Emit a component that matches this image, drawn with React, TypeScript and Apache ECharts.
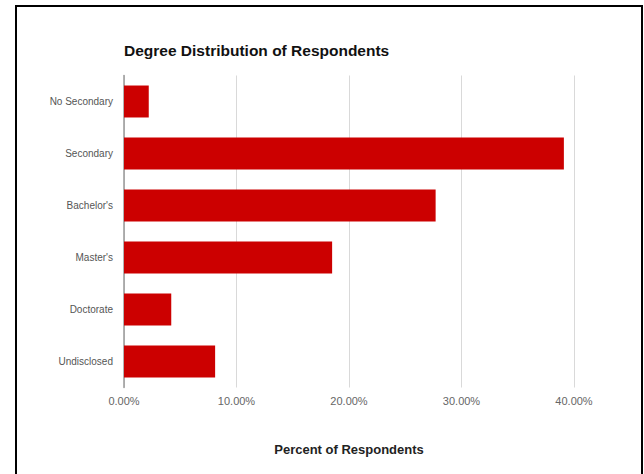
import React, { useEffect, useRef } from "react";
import * as echarts from "echarts";

const categories = ["No Secondary", "Secondary", "Bachelor's", "Master's", "Doctorate", "Undisclosed"];
const percentValues = [2.2, 39.1, 27.7, 18.5, 4.2, 8.1];
const xTicks = [0, 10, 20, 30, 40];

const FONT = "Arial, 'Liberation Sans', sans-serif";

export default function App() {
  const ref = useRef<HTMLDivElement>(null);
  useEffect(() => {
    if (!ref.current) return;
    const chart = echarts.init(ref.current, undefined, { renderer: "svg" });
    chart.setOption({
      animation: false,
      backgroundColor: "#ffffff",
      textStyle: { fontFamily: FONT },
      title: {
        text: "Degree Distribution of Respondents",
        left: 119,
        top: 37,
        textStyle: { fontSize: 15.5, fontWeight: "bold", color: "#111", fontFamily: FONT },
      },
      graphic: [
        {
          type: "rect",
          shape: { x: 16, y: 6, width: 626, height: 490 },
          style: { fill: "none", stroke: "#000", lineWidth: 2 },
          silent: true,
        },
      ],
      grid: { left: 124, right: 70, top: 75.5, bottom: 86.5 },
      xAxis: {
        type: "value",
        min: xTicks[0],
        max: xTicks[xTicks.length - 1],
        interval: 10,
        name: "Percent of Respondents",
        nameLocation: "middle",
        nameGap: 55,
        nameTextStyle: { fontSize: 13, fontWeight: "bold", color: "#222", fontFamily: FONT },
        axisLine: { show: false },
        axisTick: { show: false },
        axisLabel: {
          fontSize: 11,
          color: "#666",
          margin: 8,
          fontFamily: FONT,
          formatter: (v: number) => v.toFixed(2) + "%",
        },
        splitLine: { show: true, lineStyle: { color: "#d9d9d9", width: 1 } },
      },
      yAxis: {
        type: "category",
        data: categories,
        inverse: true,
        axisLine: { show: true, lineStyle: { color: "#999", width: 1.5 } },
        axisTick: { show: false },
        axisLabel: { fontSize: 10, color: "#555", margin: 11, fontFamily: FONT },
        splitLine: { show: false },
      },
      series: [
        {
          type: "bar",
          data: percentValues,
          barWidth: "61.5%",
          itemStyle: { color: "#cc0000" },
        },
      ],
    });
    return () => chart.dispose();
  }, []);
  return (
    <div
      ref={ref}
      style={{ position: "fixed", left: 0, top: 0, width: 644, height: 474 }}
    />
  );
}
